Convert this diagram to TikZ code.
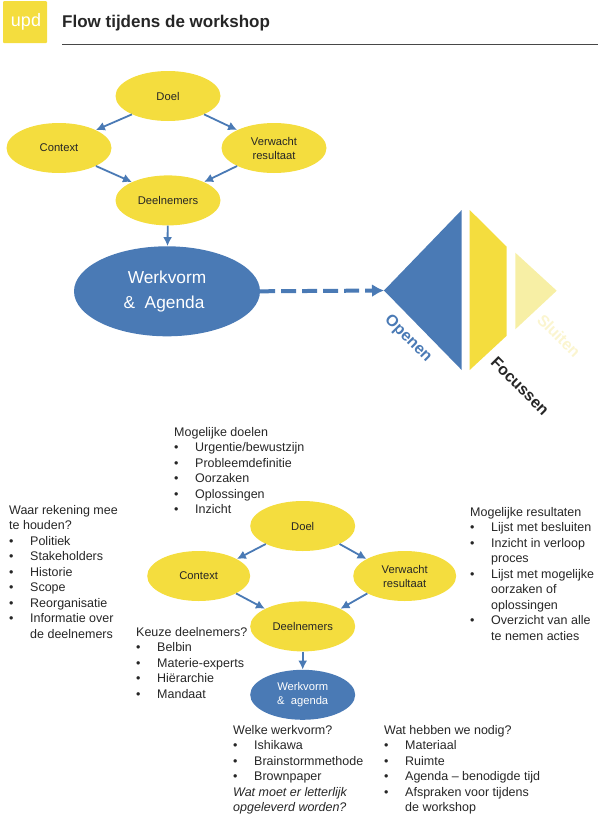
\documentclass[tikz,border=0pt]{standalone}
\usepackage{fontspec}
\setmainfont{Liberation Sans}
\usetikzlibrary{arrows.meta,positioning,calc,shapes.geometric}
\definecolor{updblue}{HTML}{4A7AB5}
\definecolor{updyellow}{HTML}{F4DD3E}
\definecolor{updpale}{HTML}{F7EFA5}
\definecolor{updfaint}{HTML}{FBF5D0}
\definecolor{updtext}{HTML}{262626}
\newcommand{\itm}[1]{\makebox[21pt][l]{•}#1}
\newcommand{\ind}{\hspace*{21pt}}

\begin{document}
\begin{tikzpicture}[x=1pt,y=-1pt,>=Latex,node distance=50pt,
  oval/.style={ellipse,fill=updyellow,text=updtext,inner sep=0pt,minimum width=105pt,minimum height=50pt,align=center,font=\fontsize{11.2}{14}\selectfont},
  bigoval/.style={oval,fill=updblue,text=white},
  list/.style={anchor=north west,inner sep=0pt,align=left,text=updtext,font=\fontsize{12.5}{15.5}\selectfont},
  flowline/.style={-{Latex[length=9pt,width=9pt]},updblue,line width=1.8pt},
  phase/.style={rotate=-45,font=\bfseries\fontsize{16}{18}\selectfont}]
\useasboundingbox (0,0) rectangle (598,814);
% header
\fill[updyellow,rounded corners=1pt] (3,1) rectangle (47,43);
\node[text=white,font=\fontsize{18}{20}\selectfont] (logo) at (26,22) {upd};
\node[anchor=west,inner sep=0pt,text=updtext,font=\bfseries\fontsize{17}{20}\selectfont] (title) at (62,23) {Flow tijdens de workshop};
\draw[updtext!85,line width=0.8pt] (62,44) -- (598,44);
% upper flow
\node[oval] (doel) at (168,96) {Doel};
\node[oval] (context) at ($(doel)+(-109,52)$) {Context};
\node[oval] (resultaat) at ($(doel)+(106,52)$) {Verwacht\\resultaat};
\node[oval,below=54pt of doel] (deelnemers) {Deelnemers};
\node[bigoval,minimum width=186pt,minimum height=90pt,below=20.5pt of deelnemers,xshift=-1pt,font=\fontsize{17.3}{25}\selectfont] (werkvorm) {Werkvorm\\\hspace*{-6pt}\&~~Agenda};
\draw[flowline] (doel.207)--(context.26);
\draw[flowline] (doel.333)--(resultaat.154);
\draw[flowline] (context.334)--(deelnemers.153);
\draw[flowline] (resultaat.206)--(deelnemers.27);
\draw[flowline] (deelnemers)--(werkvorm);
% funnel
\coordinate (tip) at (384,290.5);
\fill[updblue] (tip) -- (461.7,210) -- (461.7,370) -- cycle;
\fill[updyellow] (469.7,210) -- (506.7,246.7) -- (506.7,335.7) -- (469.7,370) -- cycle;
\fill[updpale] (515.3,252.7) -- (556.7,290.7) -- (515.3,329.3) -- cycle;
\node[phase,text=updblue] (openen) at (408,339) {Openen};
\node[phase,text=updtext] (focussen) at (520,386) {Focussen};
\node[phase,text=updfaint] (sluiten) at (559,336) {Sluiten};
\draw[updblue,line width=4pt,dash pattern=on 15pt off 6pt,-{Latex[length=12pt,width=13pt]}] (werkvorm.east)--(tip);
% lower flow
\node[oval] (doelb) at (302.7,526) {Doel};
\node[oval,minimum width=103pt] (contextb) at ($(doelb)+(-104,50)$) {Context};
\node[oval,minimum width=103pt] (resultaatb) at ($(doelb)+(102,50)$) {Verwacht\\resultaat};
\node[oval,below=50pt of doelb] (deelnemersb) {Deelnemers};
\node[bigoval,below=18pt of deelnemersb,font=\fontsize{11.2}{14}\selectfont] (werkvormb) {Werkvorm\\\&~~agenda};
\draw[flowline] (doelb.206)--(contextb.24);
\draw[flowline] (doelb.334)--(resultaatb.156);
\draw[flowline] (contextb.335)--(deelnemersb.155);
\draw[flowline] (resultaatb.205)--(deelnemersb.25);
\draw[flowline] (deelnemersb)--(werkvormb);
% lists
\node[list] (doelen) at (174,427) {Mogelijke doelen\\\itm{Urgentie/bewustzijn}\\\itm{Probleemdefinitie}\\\itm{Oorzaken}\\\itm{Oplossingen}\\\itm{Inzicht}};
\node[list] (rekening) at (9,505) {Waar rekening mee\\te houden?\\\itm{Politiek}\\\itm{Stakeholders}\\\itm{Historie}\\\itm{Scope}\\\itm{Reorganisatie}\\\itm{Informatie over}\\\ind de deelnemers};
\node[list] (resultaten) at (470,507) {Mogelijke resultaten\\\itm{Lijst met besluiten}\\\itm{Inzicht in verloop}\\\ind proces\\\itm{Lijst met mogelijke}\\\ind oorzaken of\\\ind oplossingen\\\itm{Overzicht van alle}\\\ind te nemen acties};
\node[list] (keuze) at (136,627) {Keuze deelnemers?\\\itm{Belbin}\\\itm{Materie-experts}\\\itm{Hiërarchie}\\\itm{Mandaat}};
\node[list] (welke) at (233,725) {Welke werkvorm?\\\itm{Ishikawa}\\\itm{Brainstormmethode}\\\itm{Brownpaper}\\\textit{Wat moet er letterlijk}\\\textit{opgeleverd worden?}};
\node[list] (nodig) at (384,725) {Wat hebben we nodig?\\\itm{Materiaal}\\\itm{Ruimte}\\\itm{Agenda – benodigde tijd}\\\itm{Afspraken voor tijdens}\\\ind de workshop};
\end{tikzpicture}
\end{document}
